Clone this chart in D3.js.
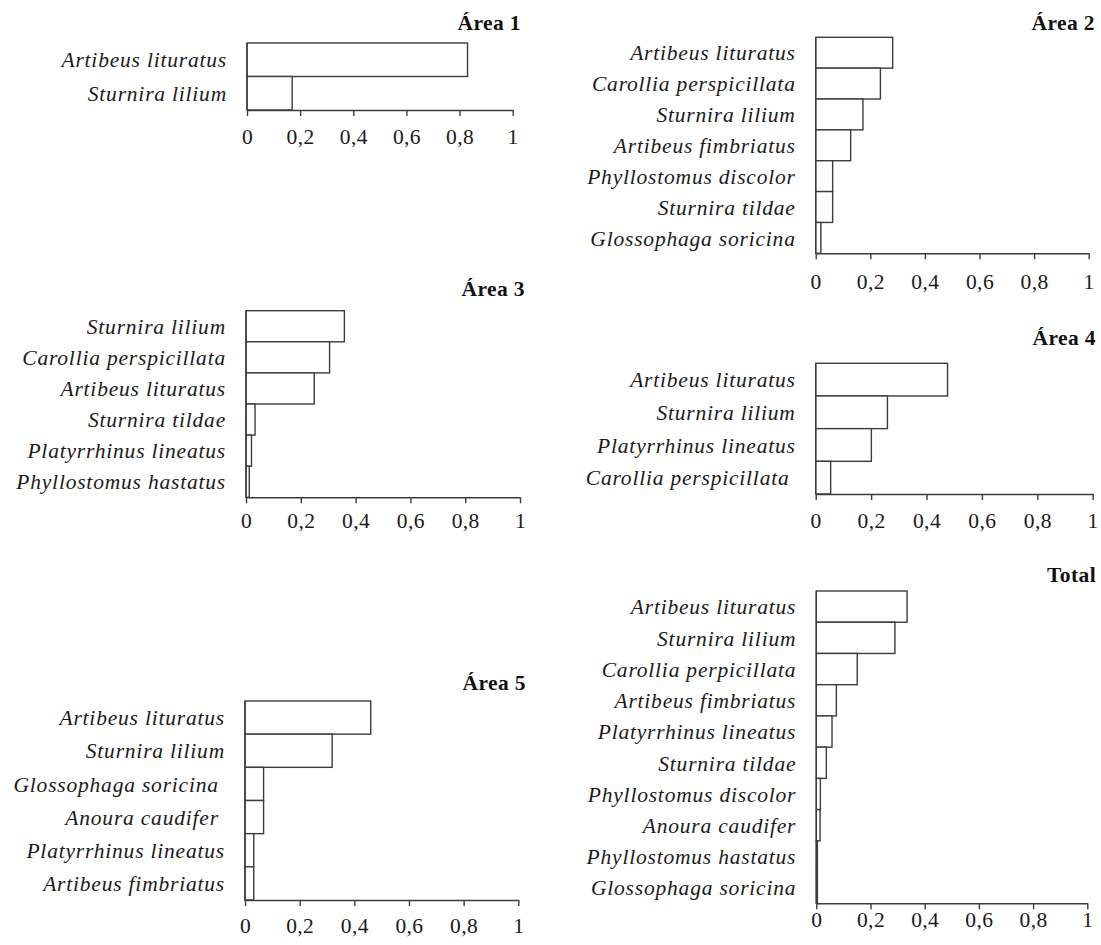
<!DOCTYPE html>
<html>
<head>
<meta charset="utf-8">
<script src="https://cdn.jsdelivr.net/npm/d3@7"></script>
<style>
  html, body { margin: 0; padding: 0; background: #fff; }
  svg { display: block; }
  .species { font-family: "Liberation Serif", "Times New Roman", serif; font-style: italic; font-size: 21.5px; letter-spacing: 0.8px; fill: #1a1a1a; white-space: pre; }
  .tick text { font-family: "Liberation Serif", "Times New Roman", serif; font-size: 21.5px; fill: #1a1a1a; letter-spacing: 0.4px; }
  .title { font-family: "Liberation Serif", "Times New Roman", serif; font-weight: bold; font-size: 21.5px; fill: #111; letter-spacing: 0.4px; }
</style>
</head>
<body>
<svg id="chart" width="1101" height="945"></svg>
<script>
// Relative abundance of frugivorous bat species per sampling area
const panelTitles = ["Área 1", "Área 2", "Área 3", "Área 4", "Área 5", "Total"];

const area1Species = ["Artibeus lituratus", "Sturnira lilium"];
const area1Values  = [0.83, 0.17];

const area2Species = ["Artibeus lituratus", "Carollia perspicillata", "Sturnira lilium", "Artibeus fimbriatus", "Phyllostomus discolor", "Sturnira tildae", "Glossophaga soricina"];
const area2Values  = [0.282, 0.237, 0.173, 0.128, 0.062, 0.062, 0.019];

const area3Species = ["Sturnira lilium", "Carollia perspicillata", "Artibeus lituratus", "Sturnira tildae", "Platyrrhinus lineatus", "Phyllostomus hastatus"];
const area3Values  = [0.359, 0.305, 0.249, 0.033, 0.020, 0.012];

const area4Species = ["Artibeus lituratus", "Sturnira lilium", "Platyrrhinus lineatus", "Carollia perspicillata "];
const area4Values  = [0.476, 0.259, 0.201, 0.054];

const area5Species = ["Artibeus lituratus", "Sturnira lilium", "Glossophaga soricina ", "Anoura caudifer ", "Platyrrhinus lineatus", "Artibeus fimbriatus"];
const area5Values  = [0.460, 0.319, 0.068, 0.068, 0.032, 0.032];

const totalSpecies = ["Artibeus lituratus", "Sturnira lilium", "Carollia perpicillata", "Artibeus fimbriatus", "Platyrrhinus lineatus", "Sturnira tildae", "Phyllostomus discolor", "Anoura caudifer", "Phyllostomus hastatus", "Glossophaga soricina"];
const totalValues  = [0.335, 0.290, 0.151, 0.074, 0.058, 0.037, 0.015, 0.014, 0.004, 0.004];

const tickValues = [0, 0.2, 0.4, 0.6, 0.8, 1];
const tickLabels = ["0", "0,2", "0,4", "0,6", "0,8", "1"];

const panelSpecies = [area1Species, area2Species, area3Species, area4Species, area5Species, totalSpecies];
const panelValues  = [area1Values, area2Values, area3Values, area4Values, area5Values, totalValues];

// Placement of each small chart on the page (plot left/right, bar top, axis line, title anchor, tick label offset)
const panelLayout = [
  { x0: 247,   x1: 512.7,  top: 43,    axisY: 110,   titleX: 521,  titleY: 30,  tickDy: 34 },
  { x0: 815.7, x1: 1088.7, top: 37.3,  axisY: 253.3, titleX: 1095, titleY: 30,  tickDy: 36 },
  { x0: 246,   x1: 520,    top: 310.7, axisY: 497.3, titleX: 525,  titleY: 296, tickDy: 31 },
  { x0: 815.7, x1: 1092.7, top: 363.3, axisY: 494,   titleX: 1096, titleY: 345, tickDy: 34 },
  { x0: 245,   x1: 518.3,  top: 701,   axisY: 900,   titleX: 526,  titleY: 690, tickDy: 33 },
  { x0: 816.3, x1: 1087.3, top: 591,   axisY: 903.3, titleX: 1096, titleY: 582, tickDy: 24 }
];

const svg = d3.select("#chart");
const strokeColor = "#3c3c3c";

panelTitles.forEach((title, i) => {
  const L = panelLayout[i];
  const species = panelSpecies[i];
  const values = panelValues[i];
  const rows = species.map((s, k) => ({ species: s, value: values[k] }));

  const x = d3.scaleLinear().domain([0, 1]).range([L.x0, L.x1]);
  const y = d3.scaleBand().domain(species).range([L.top, L.axisY]).padding(0);

  const g = svg.append("g");

  // bars
  g.selectAll("rect.bar")
    .data(rows)
    .join("rect")
    .attr("class", "bar")
    .attr("x", x(0))
    .attr("y", d => y(d.species))
    .attr("width", d => Math.max(0.5, x(d.value) - x(0)))
    .attr("height", y.bandwidth())
    .attr("fill", "#fff")
    .attr("stroke", strokeColor)
    .attr("stroke-width", 1.4);

  // species names
  g.selectAll("text.species")
    .data(rows)
    .join("text")
    .attr("class", "species")
    .attr("x", L.x0 - 20)
    .attr("y", d => y(d.species) + y.bandwidth() / 2)
    .attr("dy", "0.36em")
    .attr("text-anchor", "end")
    .attr("xml:space", "preserve")
    .text(d => d.species);

  // category axis line
  g.append("line")
    .attr("x1", x(0)).attr("x2", x(0))
    .attr("y1", L.top).attr("y2", L.axisY)
    .attr("stroke", strokeColor)
    .attr("stroke-width", 1.4);

  // value axis
  const axis = d3.axisBottom(x)
    .tickValues(tickValues)
    .tickFormat((d, k) => tickLabels[k])
    .tickSizeInner(6)
    .tickSizeOuter(0)
    .tickPadding(0);

  const ax = g.append("g")
    .attr("transform", `translate(0,${L.axisY})`)
    .call(axis);
  ax.select(".domain").attr("stroke", strokeColor).attr("stroke-width", 1.5);
  ax.selectAll(".tick line").attr("stroke", strokeColor).attr("stroke-width", 1.4);
  ax.selectAll(".tick text")
    .attr("y", L.tickDy)
    .attr("dy", 0)
    .attr("fill", "#1a1a1a");

  // panel title
  g.append("text")
    .attr("class", "title")
    .attr("x", L.titleX)
    .attr("y", L.titleY)
    .attr("text-anchor", "end")
    .text(title);
});
</script>
</body>
</html>
